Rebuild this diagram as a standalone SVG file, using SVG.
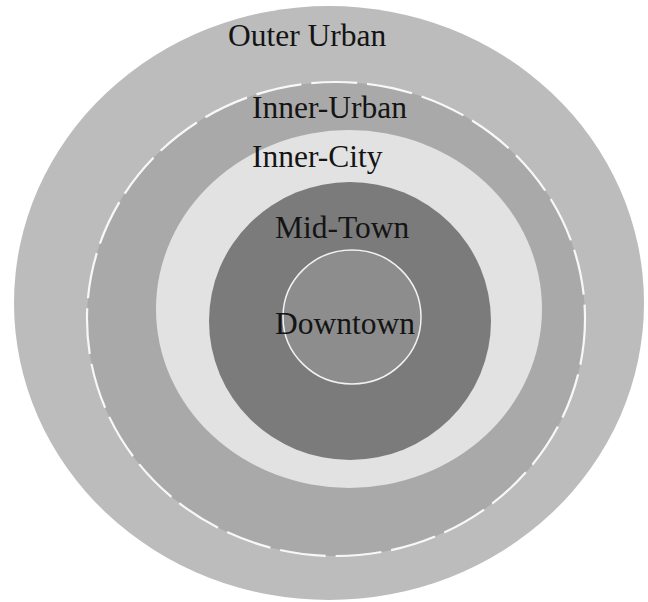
<svg xmlns="http://www.w3.org/2000/svg" width="648" height="602" viewBox="0 0 648 602">
  <style>
    .lbl { font-family: "Liberation Serif", "Times New Roman", serif; font-size: 31.5px; fill: #141414; }
    .sep { fill: none; stroke: #ffffff; stroke-width: 2.2; stroke-dasharray: 46 10; opacity: 0.9; }
  </style>
  <rect width="648" height="602" fill="#ffffff"/>
  <g id="outer-urban">
    <ellipse cx="329" cy="303" rx="315" ry="297" fill="#bcbcbc"/>
    <text class="lbl" x="228" y="46">Outer Urban</text>
  </g>
  <g id="inner-urban">
    <ellipse cx="336" cy="319" rx="249" ry="237" fill="#a9a9a9"/>
    <ellipse class="sep" cx="336" cy="319" rx="249" ry="237"/>
    <text class="lbl" x="252" y="118">Inner-Urban</text>
  </g>
  <g id="inner-city">
    <ellipse cx="349" cy="309" rx="193" ry="179" fill="#e2e2e2"/>
    <text class="lbl" x="252" y="167">Inner-City</text>
  </g>
  <g id="mid-town">
    <ellipse cx="350" cy="321" rx="141" ry="139" fill="#7b7b7b"/>
    <text class="lbl" x="275" y="238">Mid-Town</text>
  </g>
  <g id="downtown">
    <ellipse cx="352" cy="317" rx="69" ry="67" fill="#8d8d8d" stroke="#f2f2f2" stroke-width="1.5"/>
    <text class="lbl" x="275" y="334">Downtown</text>
  </g>
  <g id="connectors"/>
</svg>
